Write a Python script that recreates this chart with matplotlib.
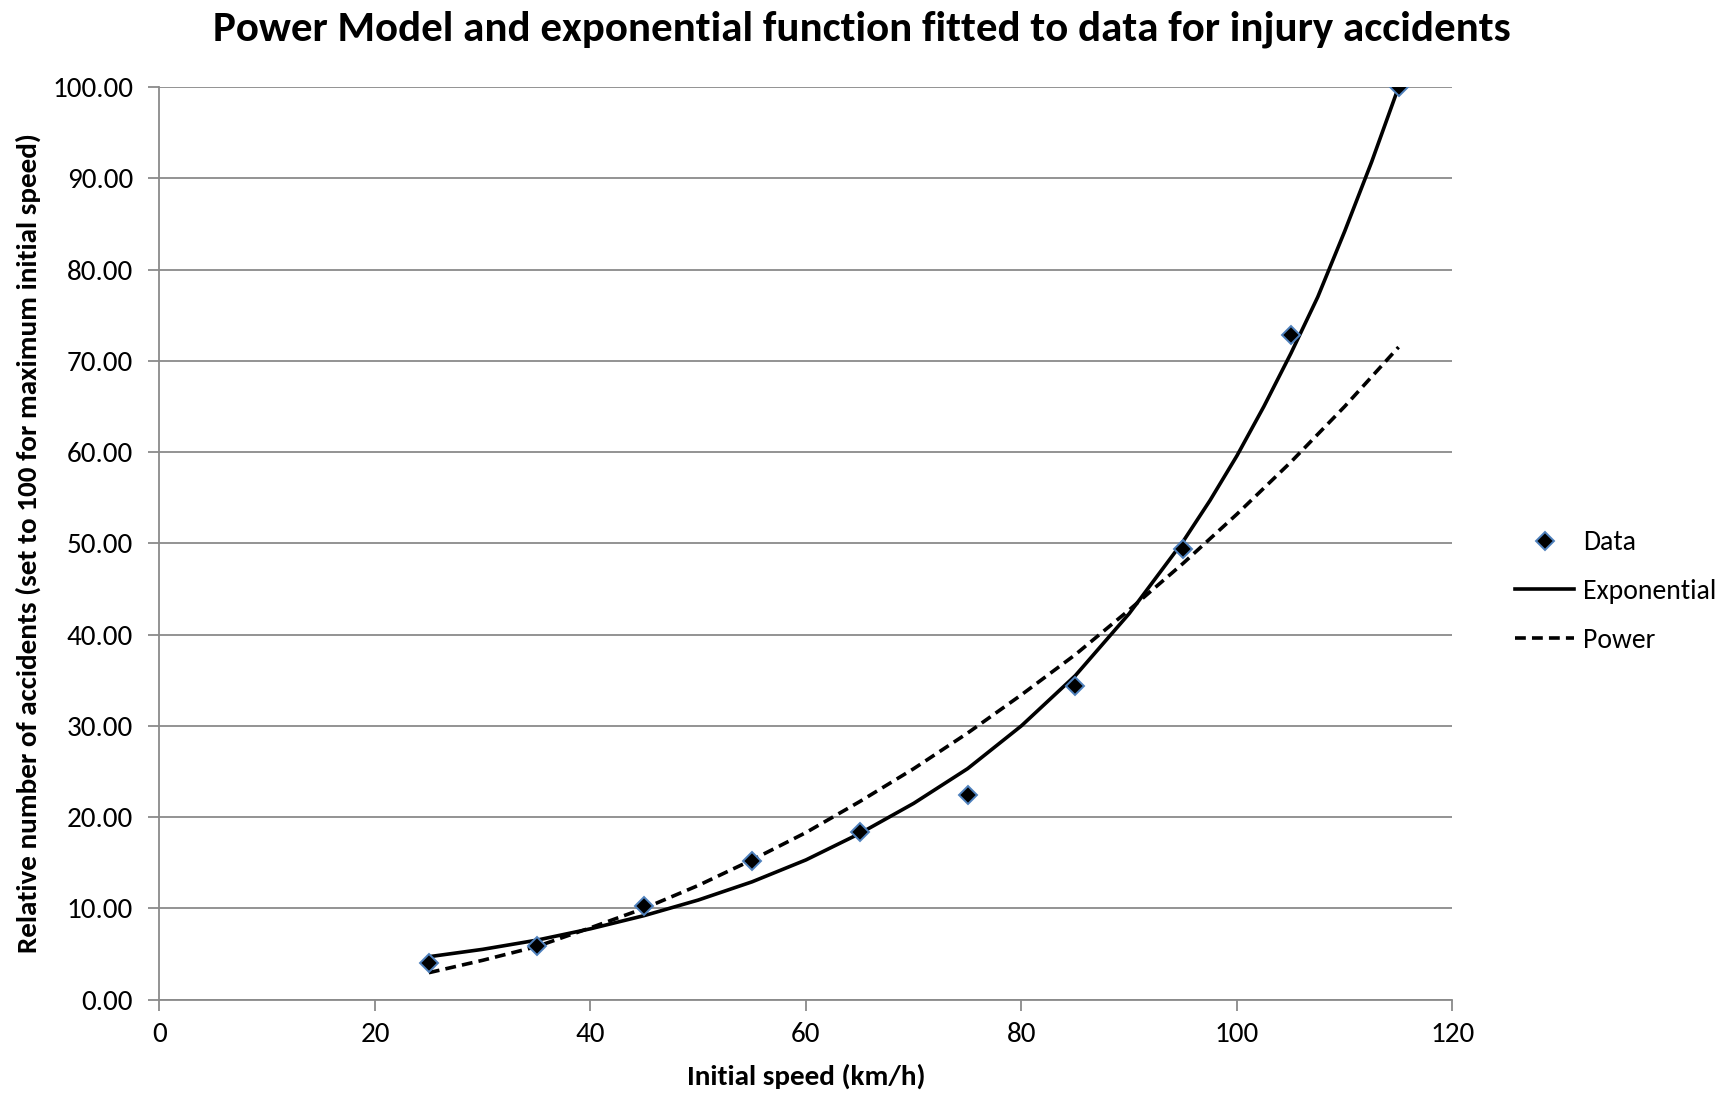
import matplotlib
matplotlib.use("Agg")
import matplotlib.pyplot as plt
import matplotlib.font_manager as fm

# ---- data ----
speed = [25, 35, 45, 55, 65, 75, 85, 95, 105, 115]
data = [4.03, 5.9, 10.25, 15.2, 18.4, 22.4, 34.4, 49.4, 72.8, 100.0]

exp_x = [25, 30, 35, 40, 45, 50, 55, 60, 65, 70, 75, 80, 85, 90, 95,
         97.5, 100, 102.5, 105, 107.5, 110, 112.5, 115]
exponential = [4.69, 5.5, 6.5, 7.75, 9.2, 10.9, 12.9, 15.3, 18.2, 21.5, 25.3, 30.0, 35.5, 42.3, 50.2,
               54.7, 59.6, 65.0, 70.8, 77.0, 84.2, 91.8, 100.0]
pow_x = [25, 30, 35, 40, 45, 50, 55, 60, 65, 70, 75, 80, 85, 90, 95, 100, 105, 110, 115]
power = [2.94, 4.3, 5.8, 7.86, 10.0, 12.5, 15.3, 18.3, 21.7, 25.3, 29.2, 33.4, 37.8, 42.7, 47.8, 53.2, 58.9, 65.0, 71.5]

x_ticks = [0, 20, 40, 60, 80, 100, 120]
y_ticks = [0, 10, 20, 30, 40, 50, 60, 70, 80, 90, 100]

title = "Power Model and exponential function fitted to data for injury accidents"
xlabel = "Initial speed (km/h)"
ylabel = "Relative number of accidents (set to 100 for maximum initial speed)"

avail = {f.name for f in fm.fontManager.ttflist}
fam = [f for f in ["Carlito", "Liberation Sans Narrow", "Liberation Sans", "DejaVu Sans"] if f in avail]
body = [f for f in ["Carlito", "Liberation Sans", "DejaVu Sans"] if f in avail]
plt.rcParams['font.family'] = body

fig = plt.figure(figsize=(17.24, 10.95), dpi=100)
ax = fig.add_axes([0.0925, 0.0872, 0.75, 0.8333])

grid_c = "#8a8a8a"
ax.set_axisbelow(True)
ax.yaxis.grid(True, color=grid_c, linewidth=1.3)

ax.plot(speed, data, linestyle="none", marker="D", markersize=9.5,
        markerfacecolor="black", markeredgecolor="#4f81bd", markeredgewidth=1.4,
        label="Data", zorder=4)
ax.plot(exp_x, exponential, color="black", linewidth=2.6, label="Exponential", zorder=3)
ax.plot(pow_x, power, color="black", linewidth=2.6, linestyle=(0, (3.0, 1.7)),
        label="Power", zorder=3)

ax.set_xlim(0, 120)
ax.set_ylim(0, 100)
ax.set_xticks(x_ticks)
ax.set_yticks(y_ticks)
ax.set_yticklabels([f"{v:.2f}" for v in y_ticks])

for s in ["top", "right"]:
    ax.spines[s].set_visible(False)
for s in ["left", "bottom"]:
    ax.spines[s].set_color(grid_c)
    ax.spines[s].set_linewidth(1.3)
ax.tick_params(axis="both", colors=grid_c, length=8, width=1.3, direction="out",
               labelsize=21, labelcolor="black")
ax.tick_params(axis="x", pad=8)
ax.tick_params(axis="y", pad=11)

ax.set_xlabel(xlabel, fontsize=21, fontweight="bold", family=fam, labelpad=12)
ax.set_ylabel(ylabel, fontsize=21, fontweight="bold", family=fam, labelpad=8)
fig.text(0.5, 0.973, title, ha="center", va="center", fontsize=31,
         fontweight="bold", family=fam)

leg = fig.legend(*ax.get_legend_handles_labels(), loc="center left",
                 bbox_to_anchor=(0.879, 1 - 591.5 / 1095), frameon=False,
                 fontsize=20, handlelength=2.1, labelspacing=0.85, handletextpad=0.35,
                 borderaxespad=0, borderpad=0)

fig.savefig("out.png", dpi=100)
